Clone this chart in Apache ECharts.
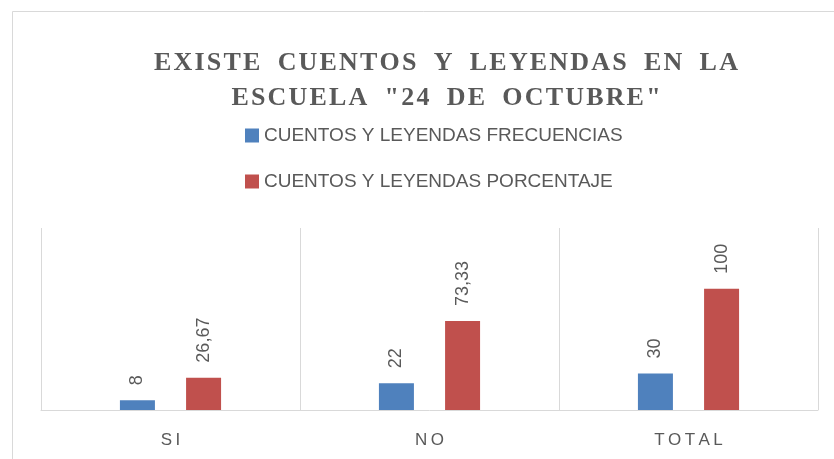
<!DOCTYPE html>
<html>
<head>
<meta charset="utf-8">
<script src="https://cdn.jsdelivr.net/npm/echarts@6/dist/echarts.min.js"></script>
<style>
  html, body { margin: 0; padding: 0; background: #fff; }
  #chart { width: 834px; height: 459px; }
</style>
</head>
<body>
<div id="chart"></div>
<script>
const categories = ['SI', 'NO', 'TOTAL']
const frecuencias = [8, 22, 30]
const porcentajes = [26.67, 73.33, 100]
const seriesNames = ['CUENTOS Y LEYENDAS FRECUENCIAS', 'CUENTOS Y LEYENDAS PORCENTAJE']
const titleLines = ['EXISTE CUENTOS Y LEYENDAS EN LA', 'ESCUELA "24 DE OCTUBRE"']

// spread letters a bit, like the original's character spacing
const spread = (s, gap) => s.split('').map(c => c === ' ' ? '  ' : c).join(gap)

const textGrey = '#595959'
const sans = 'Liberation Sans'

const barLabel = {
  show: true,
  position: 'top',
  rotate: 90,
  align: 'left',
  verticalAlign: 'middle',
  distance: 15,
  color: textGrey,
  fontSize: 18,
  fontFamily: sans,
  formatter: p => String(p.value).replace('.', ',')
}

const chart = echarts.init(document.getElementById('chart'))
chart.setOption({
  backgroundColor: '#fff',
  animation: false,
  title: {
    text: titleLines.map(l => spread(l, '\u200A')).join('\n'),
    left: 441,
    textAlign: 'center',
    top: 41,
    textStyle: {
      color: textGrey,
      fontFamily: 'Liberation Serif',
      fontWeight: 'bold',
      fontSize: 26,
      lineHeight: 35
    }
  },
  legend: {
    orient: 'vertical',
    left: 240,
    top: 121,
    itemWidth: 14,
    itemHeight: 14,
    itemGap: 27,
    icon: 'rect',
    data: seriesNames,
    textStyle: { color: textGrey, fontSize: 19, fontFamily: sans }
  },
  grid: { left: 41, right: 16, top: 228, bottom: 49 },
  xAxis: {
    type: 'category',
    data: categories,
    axisLine: { lineStyle: { color: '#d9d9d9' } },
    axisTick: { show: false },
    splitLine: { show: true, lineStyle: { color: '#d9d9d9' } },
    axisLabel: {
      color: textGrey,
      fontSize: 17,
      fontFamily: sans,
      margin: 22,
      formatter: v => v.split('').join('\u2009')
    }
  },
  yAxis: {
    type: 'value',
    min: 0,
    max: 150,
    show: false
  },
  series: [
    { name: seriesNames[0], type: 'bar', data: frecuencias, barWidth: 35, barGap: '89%', itemStyle: { color: '#4F81BD' }, label: barLabel },
    { name: seriesNames[1], type: 'bar', data: porcentajes, barWidth: 35, itemStyle: { color: '#C0504D' }, label: barLabel }
  ],
  graphic: [{
    type: 'rect',
    shape: { x: 12.5, y: 11.5, width: 900, height: 600 },
    style: { fill: 'none', stroke: '#d9d9d9', lineWidth: 1 },
    silent: true,
    z: -1
  }]
})
</script>
</body>
</html>
